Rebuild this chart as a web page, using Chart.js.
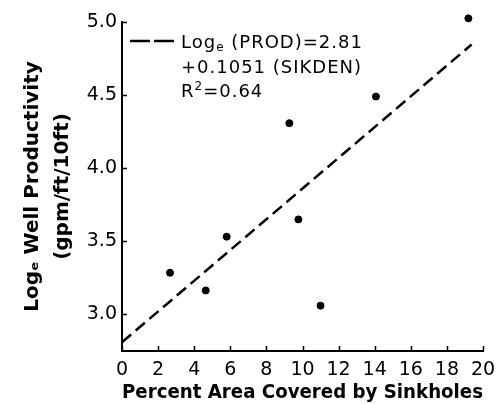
<!DOCTYPE html>
<html lang="en">
<head>
    <meta charset="UTF-8">
    <script src="https://cdn.jsdelivr.net/npm/chart.js"></script>
    <title>Well Productivity vs Sinkholes</title>
</head>
<style>
    body { margin: 0; background: #fff; }
    .wrap { width: 499px; height: 404px; }
</style>
<body>
    <div class="wrap"><canvas id="chart" width="499" height="404"></canvas></div>
</body>
<script>
    // observed wells: percent area covered by sinkholes vs log productivity
    const sinkholePct = [2.66, 4.64, 5.8, 9.27, 9.77, 11.0, 14.07, 19.19];
    const logProd = [3.285, 3.164, 3.532, 4.308, 3.65, 3.06, 4.49, 5.025];

    // regression: Loge(PROD) = 2.81 + 0.1051 (SIKDEN)
    const fitX = [0, 19.37];
    const fitY = [2.81, 4.846];

    const xTicks = [0, 2, 4, 6, 8, 10, 12, 14, 16, 18, 20];
    const yTicks = [3.0, 3.5, 4.0, 4.5, 5.0];

    const FONT = 'DejaVu Sans';

    // small inward tick marks, like the original plot
    const innerTicks = {
        id: 'innerTicks',
        afterDraw(chart) {
            const ctx = chart.ctx;
            const xs = chart.scales.x, ys = chart.scales.y;
            const a = chart.chartArea;
            ctx.save();
            ctx.strokeStyle = '#000';
            ctx.lineWidth = 1.5;
            ctx.beginPath();
            xTicks.forEach(v => {
                var px = Math.round(xs.getPixelForValue(v)) + 0.5;
                ctx.moveTo(px, a.bottom);
                ctx.lineTo(px, a.bottom - 5);
            });
            yTicks.forEach(v => {
                var py = Math.round(ys.getPixelForValue(v)) + 0.5;
                ctx.moveTo(a.left, py);
                ctx.lineTo(a.left + 5, py);
            });
            ctx.stroke();
            ctx.restore();
        }
    };

    // equation key in upper left
    const equationKey = {
        id: 'equationKey',
        afterDraw(chart) {
            const ctx = chart.ctx;
            const a = chart.chartArea;
            var x0 = a.left + 8, tx = a.left + 59;
            ctx.save();
            ctx.strokeStyle = '#000';
            ctx.lineWidth = 2.5;
            ctx.setLineDash([20, 4]);
            ctx.beginPath();
            ctx.moveTo(x0, a.top + 19);
            ctx.lineTo(x0 + 46, a.top + 19);
            ctx.stroke();
            ctx.setLineDash([]);

            ctx.fillStyle = '#000';
            ctx.letterSpacing = '1px';
            ctx.textBaseline = 'alphabetic';
            var big = '18px "' + FONT + '"', small = '12px "' + FONT + '"';
            ctx.font = big;
            var y1 = a.top + 26, y2 = a.top + 51, y3 = a.top + 75;
            var x = tx;
            ctx.fillText('Log', x, y1); x += ctx.measureText('Log').width;
            ctx.font = small;
            ctx.fillText('e', x, y1 + 3); x += ctx.measureText('e').width;
            ctx.font = big;
            ctx.fillText(' (PROD)=2.81', x, y1);
            ctx.fillText('+0.1051 (SIKDEN)', tx, y2);
            x = tx;
            ctx.fillText('R', x, y3); x += ctx.measureText('R').width;
            ctx.font = small;
            ctx.fillText('2', x, y3 - 7); x += ctx.measureText('2').width;
            ctx.font = big;
            ctx.fillText('=0.64', x, y3);
            ctx.restore();
        }
    };

    var ctx = document.getElementById('chart').getContext('2d');

    var chart = new Chart(ctx, {
        type: 'scatter',
        data: {
            datasets: [{
                label: 'Wells',
                data: sinkholePct.map((v, i) => ({ x: v, y: logProd[i] })),
                backgroundColor: '#000',
                borderColor: '#000',
                pointRadius: 3.5,
                pointHoverRadius: 3.5,
                clip: false
            }, {
                label: 'Regression',
                type: 'line',
                data: fitX.map((v, i) => ({ x: v, y: fitY[i] })),
                borderColor: '#000',
                borderWidth: 2.5,
                borderDash: [12, 6],
                pointRadius: 0,
                fill: false
            }]
        },
        options: {
            responsive: false,
            animation: false,
            layout: { padding: { top: 22, right: 16, left: 18, bottom: 0 } },
            plugins: {
                legend: { display: false },
                tooltip: { enabled: false }
            },
            scales: {
                x: {
                    type: 'linear',
                    min: 0,
                    max: 20,
                    afterBuildTicks: s => { s.ticks = xTicks.map(v => ({ value: v })); },
                    afterFit: s => { s.height = 53; },
                    grid: { display: false },
                    border: { color: '#000', width: 2 },
                    ticks: { color: '#000', padding: 0, maxRotation: 0, autoSkip: false, font: { family: FONT, size: 19 } },
                    title: {
                        display: true,
                        text: 'Percent Area Covered by Sinkholes',
                        color: '#000',
                        padding: { top: 0, bottom: 0 },
                        font: { family: FONT, size: 19, weight: 'bold' }
                    }
                },
                y: {
                    min: 2.75,
                    max: 5.0,
                    afterBuildTicks: s => { s.ticks = yTicks.map(v => ({ value: v })); },
                    afterFit: s => { s.width = 104; },
                    grid: { display: false },
                    border: { color: '#000', width: 2 },
                    ticks: { color: '#000', padding: -3, callback: v => v.toFixed(1), font: { family: FONT, size: 19 } },
                    title: {
                        display: true,
                        text: ['Logₑ Well Productivity', '(gpm/ft/10ft)'],
                        color: '#000',
                        padding: { top: 0, bottom: 0 },
                        font: { family: FONT, size: 20, weight: 'bold', lineHeight: 1.5 }
                    }
                }
            }
        },
        plugins: [innerTicks, equationKey]
    });
</script>
</html>
